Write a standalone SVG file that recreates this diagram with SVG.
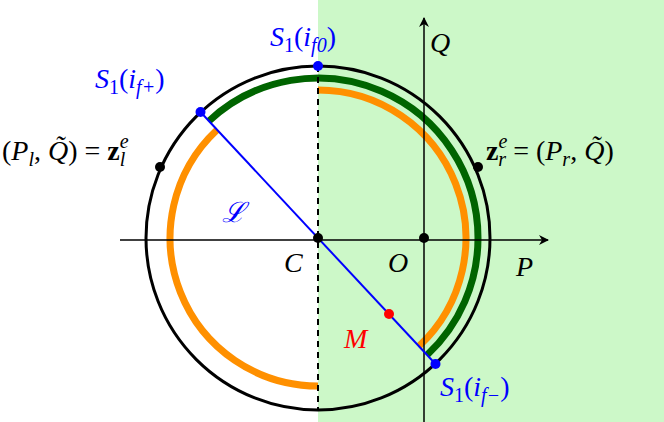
<svg xmlns="http://www.w3.org/2000/svg" width="664" height="422" viewBox="0 0 664 422">
<style>
text{font-family:"Liberation Serif",serif;font-size:28px}
.i{font-style:italic}
.b{fill:#0000ff}
.s{font-size:20px}
.arc{fill:none;stroke-width:7}
</style>
<defs><marker id="ar" viewBox="0 0 10 10" refX="9" refY="5" markerWidth="10" markerHeight="10" markerUnits="userSpaceOnUse" orient="auto"><path d="M0,0L10,5L0,10L3,5z" fill="#000"/></marker></defs>
<rect id="region" x="318" y="0" width="346" height="422" fill="#ccf8c8"/>
<g id="arcs">
<path class="arc" stroke="#006400" d="M208.7,121.2A160,160 0 0 1 478,238A160,160 0 0 1 427.3,354.8"/>
<path class="arc" stroke="#ff9000" d="M318,90A148,148 0 0 1 419.1,346"/>
<path class="arc" stroke="#ff9000" d="M216.9,130A148,148 0 0 0 318,386"/>
<circle cx="318" cy="238" r="172" fill="none" stroke="#000" stroke-width="3"/>
</g>
<g id="connectors">
<line x1="120" y1="240" x2="548" y2="240" stroke="#000" stroke-width="1.5" marker-end="url(#ar)"/>
<line x1="424" y1="422" x2="424" y2="18" stroke="#000" stroke-width="1.5" marker-end="url(#ar)"/>
<line x1="318" y1="66" x2="318" y2="410" stroke="#000" stroke-width="2" stroke-dasharray="6,5"/>
<line x1="200.5" y1="112" x2="435.5" y2="364" stroke="#0000ff" stroke-width="2"/>
</g>
<g id="points">
<circle cx="318" cy="66" r="5" fill="#0000ff"/>
<circle cx="200.5" cy="112" r="5" fill="#0000ff"/>
<circle cx="435.5" cy="364" r="5" fill="#0000ff"/>
<circle cx="160" cy="167" r="5" fill="#000"/>
<circle cx="478" cy="167" r="5" fill="#000"/>
<circle cx="318" cy="238" r="5" fill="#000"/>
<circle cx="424" cy="238" r="5" fill="#000"/>
<circle cx="389" cy="314" r="5" fill="#ff0000"/>
</g>
<g id="labels">
<text x="270" y="46" class="b"><tspan class="i">S</tspan><tspan class="s" dy="6">1</tspan><tspan dy="-6">(</tspan><tspan class="i">i</tspan><tspan class="s i" dy="6">f0</tspan><tspan dy="-6">)</tspan></text>
<text x="95" y="88" class="b"><tspan class="i">S</tspan><tspan class="s" dy="6">1</tspan><tspan dy="-6">(</tspan><tspan class="i">i</tspan><tspan class="s i" dy="6">f+</tspan><tspan dy="-6">)</tspan></text>
<text x="440" y="396" class="b"><tspan class="i">S</tspan><tspan class="s" dy="6">1</tspan><tspan dy="-6">(</tspan><tspan class="i">i</tspan><tspan class="s i" dy="6">f−</tspan><tspan dy="-6">)</tspan></text>
<text x="2" y="160">(<tspan class="i">P</tspan><tspan class="s i" dy="6">l</tspan><tspan dy="-6">, </tspan><tspan class="i">Q̃</tspan>) = <tspan font-weight="bold">z</tspan><tspan class="s i" dy="-12">e</tspan><tspan class="s i" dx="-9" dy="18">l</tspan></text>
<text x="486" y="160"><tspan font-weight="bold">z</tspan><tspan class="s i" dy="-12">e</tspan><tspan class="s i" dx="-9" dy="18">r</tspan><tspan dy="-6"> = (</tspan><tspan class="i">P</tspan><tspan class="s i" dy="6">r</tspan><tspan dy="-6">, </tspan><tspan class="i">Q̃</tspan>)</text>
<text x="222" y="222" class="b i" font-size="30">ℒ</text>
<text x="284" y="272" class="i">C</text>
<text x="388" y="272" class="i">O</text>
<text x="516" y="276" class="i">P</text>
<text x="430" y="52" class="i">Q</text>
<text x="344" y="348" class="i" fill="#ff0000">M</text>
</g>
</svg>
